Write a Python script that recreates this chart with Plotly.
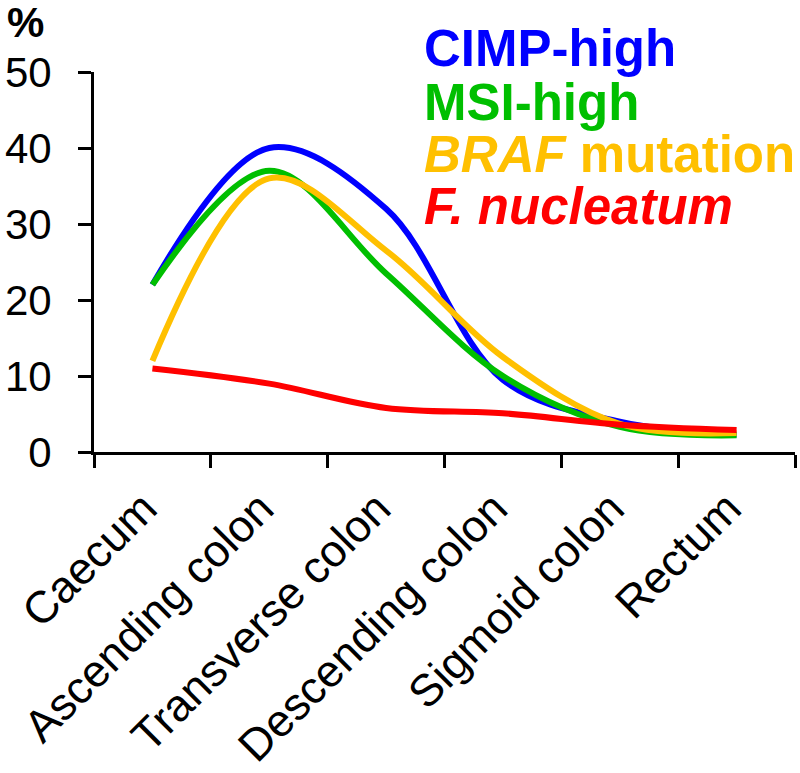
import plotly.graph_objects as go

categories = ["Caecum", "Ascending colon", "Transverse colon",
              "Descending colon", "Sigmoid colon", "Rectum"]
cimp_high = [22.0, 40.0, 32.0, 9.5, 4.0, 2.3]
msi_high = [22.0, 37.0, 23.5, 10.0, 3.3, 2.2]
braf_mut = [12.0, 36.0, 26.5, 12.5, 3.7, 2.5]
f_nucleatum = [11.0, 9.0, 5.8, 5.1, 3.6, 2.9]
y_ticks = [0, 10, 20, 30, 40, 50]

series = [
    ("CIMP-high", cimp_high, "#0000FF"),
    ("MSI-high", msi_high, "#00BF00"),
    ("BRAF mutation", braf_mut, "#FFC000"),
    ("F. nucleatum", f_nucleatum, "#FF0000"),
]

FONT = "Arial, Liberation Sans, sans-serif"
W, H = 800, 773
ML, MR, MT, MB = 94, 5, 72, 773 - 452
PW, PH = W - ML - MR, H - MT - MB

fig = go.Figure()
for name, vals, col in series:
    fig.add_trace(go.Scatter(
        x=categories, y=vals, mode="lines", name=name,
        line=dict(color=col, width=6, shape="spline", smoothing=1.0),
        showlegend=False))

def px(x):
    return (x - ML) / PW

def py(y):
    return (H - MB - y) / PH

labels = [
    ("<b>CIMP-high</b>", "#0000FF", 49),
    ("<b>MSI-high</b>", "#00BF00", 102),
    ("<b><i>BRAF</i> mutation</b>", "#FFC000", 154),
    ("<b><i>F. nucleatum</i></b>", "#FF0000", 206),
]
for txt, col, yc in labels:
    fig.add_annotation(text=txt, xref="paper", yref="paper",
                       x=px(423), y=py(yc), xanchor="left", yanchor="middle",
                       showarrow=False, borderpad=0,
                       font=dict(family=FONT, size=51, color=col))

fig.add_annotation(text="<b>%</b>", xref="paper", yref="paper",
                   x=px(25), y=py(22), xanchor="center", yanchor="middle",
                   showarrow=False, borderpad=0,
                   font=dict(family=FONT, size=42, color="black"))

fig.update_layout(
    width=W, height=H,
    margin=dict(l=ML, r=MR, t=MT, b=MB, autoexpand=False),
    paper_bgcolor="white", plot_bgcolor="white",
    font=dict(family=FONT, color="black"),
)
fig.update_xaxes(
    type="category", range=[-0.5, 5.5], tickson="boundaries",
    tickvals=categories, ticktext=[c + "\u00a0" for c in categories],
    ticks="outside", ticklen=13, tickwidth=3, tickcolor="black",
    showline=True, linewidth=3, linecolor="black", showgrid=False,
    tickangle=-45, tickfont=dict(size=45, family=FONT, color="black"),
    zeroline=False, automargin=False,
)
fig.update_yaxes(
    range=[0, 50], tickvals=y_ticks, ticks="outside", ticklen=13,
    tickwidth=3, tickcolor="black", showline=True, linewidth=3,
    linecolor="black", showgrid=False, zeroline=False,
    tickfont=dict(size=42, family=FONT, color="black"),
    ticklabelstandoff=18, automargin=False,
)
fig.write_html("out.html",
               config={"displayModeBar": False},
               post_script="document.body.style.margin='0px';")
